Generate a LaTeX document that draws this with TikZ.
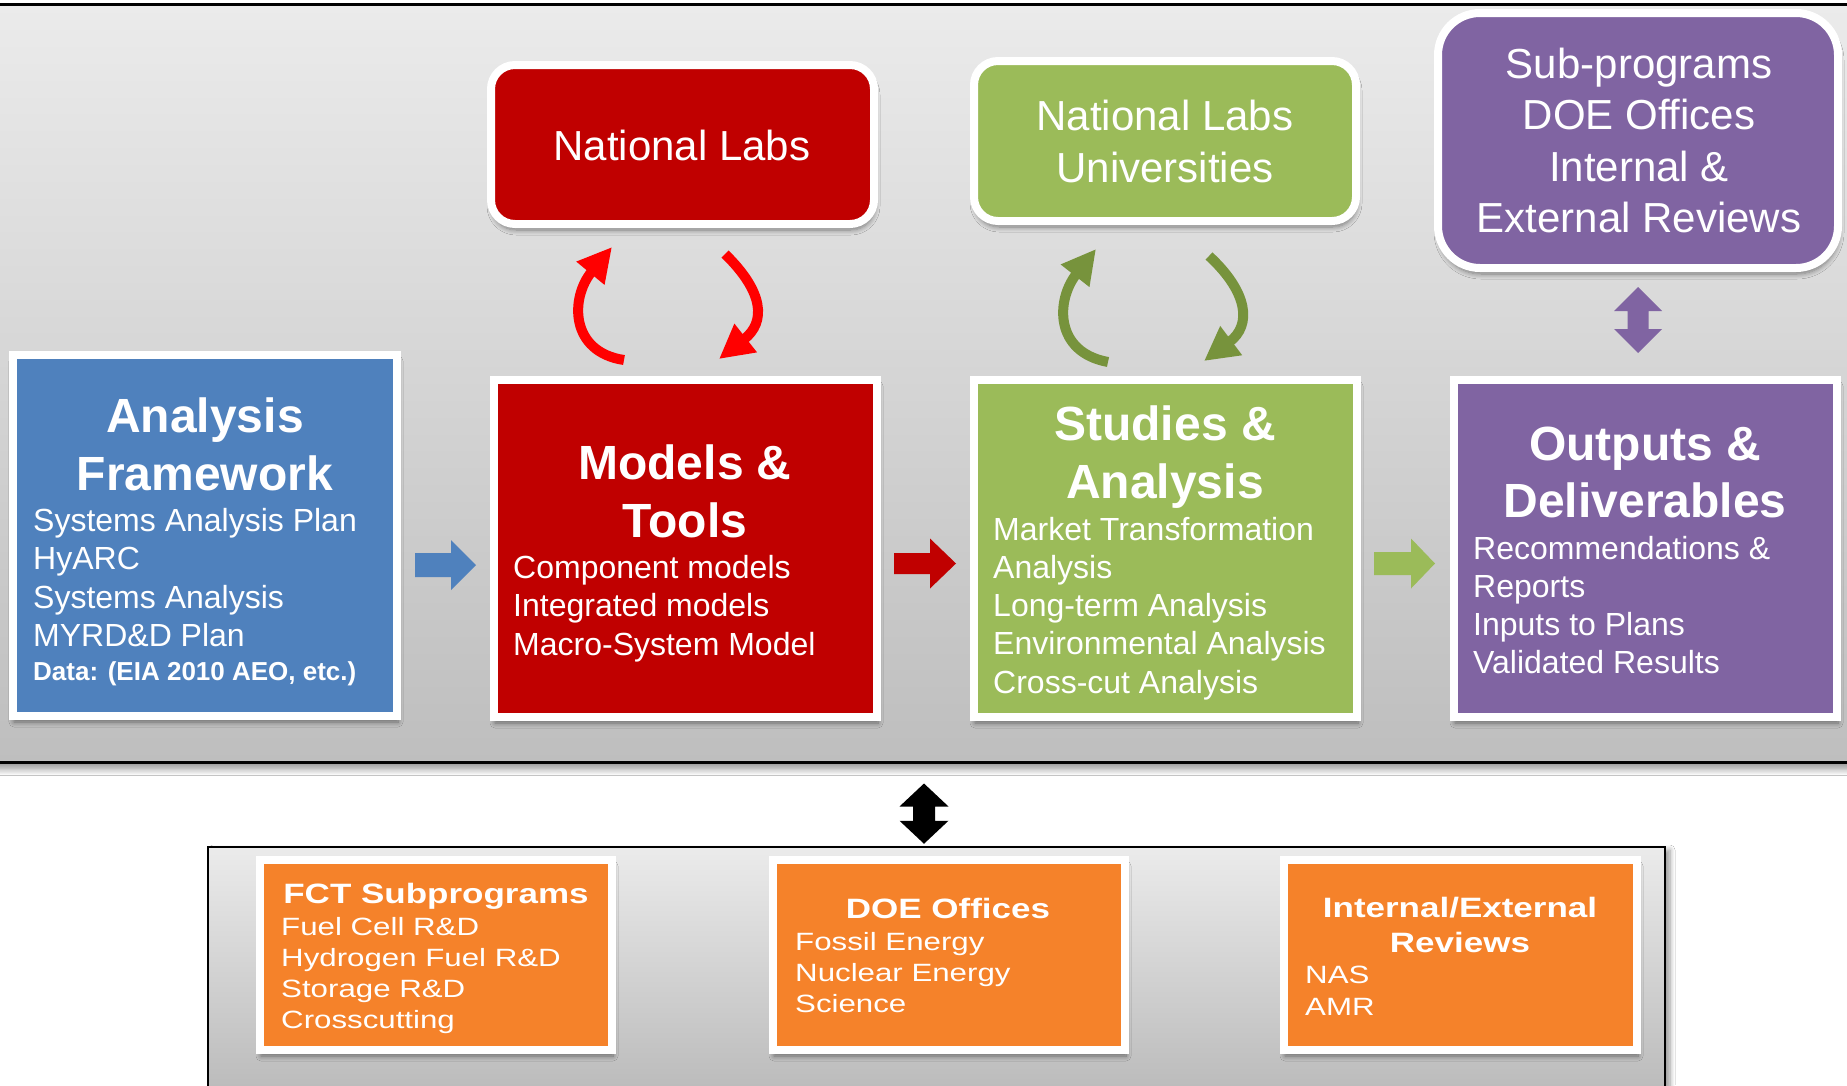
\documentclass[tikz,border=0pt]{standalone}
\usepackage{fontspec}
\setmainfont{Liberation Sans}
\newfontfamily\widefont[FakeStretch=1.25]{Liberation Sans}
\usetikzlibrary{arrows.meta,calc,shadows.blur}
\definecolor{cBlue}{HTML}{4F81BD}
\definecolor{cRed}{HTML}{C00000}
\definecolor{cGreen}{HTML}{9BBB59}
\definecolor{cPurple}{HTML}{8064A2}
\definecolor{cOrange}{HTML}{F5822A}
\definecolor{cArcRed}{HTML}{FF0000}
\definecolor{cArcGreen}{HTML}{77933C}
\definecolor{pTop}{HTML}{EBEBEB}
\definecolor{pBot}{HTML}{BEBEBE}
\newcommand\harrow[6]{% color, tail, tip, body half, head half, head length
  \fill[#1] let \p1=(#2), \p2=(#3) in
    (\x1,\y1+#4pt) -- (\x2-#6pt,\y1+#4pt) -- (\x2-#6pt,\y1+#5pt) -- (\x2,\y1)
    -- (\x2-#6pt,\y1-#5pt) -- (\x2-#6pt,\y1-#4pt) -- (\x1,\y1-#4pt) -- cycle;}
\newcommand\vdarrow[6]{% color, top tip, bottom tip, shaft half, head half, head length
  \fill[#1] let \p1=(#2), \p2=(#3) in
    (\x1,\y1) -- (\x1+#5pt,\y1-#6pt) -- (\x1+#4pt,\y1-#6pt) -- (\x1+#4pt,\y2+#6pt)
    -- (\x1+#5pt,\y2+#6pt) -- (\x1,\y2) -- (\x1-#5pt,\y2+#6pt) -- (\x1-#4pt,\y2+#6pt)
    -- (\x1-#4pt,\y1-#6pt) -- (\x1-#5pt,\y1-#6pt) -- cycle;}
\begin{document}
\begin{tikzpicture}[x=1pt,y=-1pt,
  box/.style={draw=white, line width=8pt, inner sep=0pt,
    blur shadow={shadow xshift=1pt, shadow yshift=-6pt, shadow blur steps=8, shadow opacity=45, shadow blur radius=5pt}},
  rbox/.style={box, rounded corners=24pt},
  ttl/.style={text=white, inner sep=0pt, anchor=base, font=\fontsize{48}{58}\selectfont\bfseries},
  bdy/.style={text=white, inner sep=0pt, anchor=base west, font=\fontsize{32}{39}\selectfont},
  toptxt/.style={text=white, inner sep=0pt, anchor=base, font=\fontsize{42}{51}\selectfont},
  bttl/.style={text=white, inner sep=0pt, anchor=base, font=\widefont\fontsize{28}{34}\selectfont\bfseries},
  bbdy/.style={text=white, inner sep=0pt, anchor=base west, font=\widefont\fontsize{25}{31}\selectfont},
  arcarrow/.style={line width=10pt, -{Triangle[length=34pt,width=34pt]}}]
\useasboundingbox (0,0) rectangle (1847,1085);
\fill[white] (0,0) rectangle (1847,1085);

% panels
\node[draw=black, line width=3pt, inner sep=0pt, minimum width=1880, minimum height=758,
  top color=pTop, bottom color=pBot,
  blur shadow={shadow xshift=0pt, shadow yshift=-7pt, shadow blur steps=8, shadow opacity=40, shadow blur radius=6pt}]
  (toppanel) at (924,383.5) {};
\node[draw=black, line width=2.5pt, inner sep=0pt, minimum width=1457, minimum height=248,
  top color=pTop, bottom color=pBot!98!black,
  blur shadow={shadow xshift=5pt, shadow yshift=-3pt, shadow blur steps=8, shadow opacity=40, shadow blur radius=5pt}]
  (botpanel) at (936.5,971) {};

% main boxes
\node[box, fill=cBlue,   minimum width=384, minimum height=361] (af) at (205,535.5) {};
\node[box, fill=cRed,    minimum width=383, minimum height=337] (mt) at (685.5,548.5) {};
\node[box, fill=cGreen,  minimum width=383, minimum height=337] (sa) at (1165.5,548.5) {};
\node[box, fill=cPurple, minimum width=383, minimum height=337] (od) at (1645.5,548.5) {};

% top boxes
\node[rbox, fill=cRed,   minimum width=383, minimum height=159] (nl) at (682.5,144.5) {};
\node[rbox, fill=cGreen, minimum width=382, minimum height=160] (nu) at (1165,141) {};
\node[box, rounded corners=42pt, fill=cPurple, minimum width=400, minimum height=255] (sp) at (1638,140.5) {};

% bottom boxes
\node[box, fill=cOrange, minimum width=352, minimum height=190] (fct) at (436,955) {};
\node[box, fill=cOrange, minimum width=352, minimum height=190] (doe) at (949,955) {};
\node[box, fill=cOrange, minimum width=353, minimum height=190] (ie)  at (1460.5,955) {};

% texts: Analysis Framework
\node[ttl] (af-t1) at (205,432) {Analysis};
\node[ttl] (af-t2) at (205,490) {Framework};
\foreach \t [count=\i] in {Systems Analysis Plan, HyARC, Systems Analysis, MYRD\&D Plan}
  \node[bdy] (af-b\i) at (33,{531+38.5*(\i-1)}) {\t};
\node[bdy, font=\fontsize{26}{31}\selectfont\bfseries] (af-data) at (33,680) {Data: (EIA 2010 AEO, etc.)};

% Models & Tools
\node[ttl] (mt-t1) at (685,479) {Models \&};
\node[ttl] (mt-t2) at (685,537) {Tools};
\foreach \t [count=\i] in {Component models, Integrated models, Macro-System Model}
  \node[bdy] (mt-b\i) at (513,{578+38.5*(\i-1)}) {\t};

% Studies & Analysis
\node[ttl] (sa-t1) at (1165,440) {Studies \&};
\node[ttl] (sa-t2) at (1165,498) {Analysis};
\foreach \t [count=\i] in {Market Transformation, Analysis, Long-term Analysis, Environmental Analysis, Cross-cut Analysis}
  \node[bdy] (sa-b\i) at (993,{540+38.3*(\i-1)}) {\t};

% Outputs & Deliverables
\node[ttl] (od-t1) at (1645,460) {Outputs \&};
\node[ttl] (od-t2) at (1645,517) {Deliverables};
\foreach \t [count=\i] in {Recommendations \&, Reports, Inputs to Plans, Validated Results}
  \node[bdy] (od-b\i) at (1473,{559+38.3*(\i-1)}) {\t};

% top box texts
\node[toptxt] (nl-t) at (682,160) {National Labs};
\node[toptxt] (nu-t1) at (1165,130) {National Labs};
\node[toptxt] (nu-t2) at (1165,182) {Universities};
\foreach \t [count=\i] in {Sub-programs, DOE Offices, Internal \&, External Reviews}
  \node[toptxt] (sp-t\i) at (1639,{78+51.5*(\i-1)}) {\t};

% bottom texts
\node[bttl] (fct-t) at (436,903) {FCT Subprograms};
\foreach \t [count=\i] in {Fuel Cell R\&D, Hydrogen Fuel R\&D, Storage R\&D, Crosscutting}
  \node[bbdy] (fct-b\i) at (281,{935+31*(\i-1)}) {\t};
\node[bttl] (doe-t) at (948,918) {DOE Offices};
\foreach \t [count=\i] in {Fossil Energy, Nuclear Energy, Science}
  \node[bbdy] (doe-b\i) at (795,{950+31*(\i-1)}) {\t};
\node[bttl] (ie-t1) at (1460,917) {Internal/External};
\node[bttl] (ie-t2) at (1460,952) {Reviews};
\foreach \t [count=\i] in {NAS, AMR}
  \node[bbdy] (ie-b\i) at (1305,{983+32*(\i-1)}) {\t};

% block arrows between main boxes
\path (af.east) ++(14,29.5) coordinate (b1s);
\path (mt.west) ++(-14,16.5) coordinate (b1e);
\harrow{cBlue}{b1s}{b1e}{12}{25}{25}
\path (mt.east) ++(13,15) coordinate (b2s);
\path (sa.west) ++(-14,15) coordinate (b2e);
\harrow{cRed}{b2s}{b2e}{10.5}{25}{26}
\path (sa.east) ++(13,15) coordinate (b3s);
\path (od.west) ++(-15,15) coordinate (b3e);
\harrow{cGreen}{b3s}{b3e}{11.5}{25}{24}

% vertical double arrows
\path (sp.south) ++(0,15) coordinate (p1);
\path (sp.south |- od.north) ++(0,-23) coordinate (p2);
\vdarrow{cPurple}{p1}{p2}{10.5}{24}{24}
\path (toppanel.south) ++(0,19.5) coordinate (k1);
\path (toppanel.south |- botpanel.north) ++(0,-2) coordinate (k2);
\vdarrow{black}{k1}{k2}{11}{24.5}{23}

% curved arrows (red)
\draw[arcarrow, cArcRed] ($(mt.north)+(-61.5,-16)$) .. controls (570,352) and (570,298) .. ($(nl.south)+(-70.5,19)$);
\draw[arcarrow, cArcRed] ($(nl.south)+(42.5,26)$) .. controls (764,292) and (766,322) .. ($(mt.north)+(33.5,-17)$);
% curved arrows (green)
\draw[arcarrow, cArcGreen] ($(sa.north)+(-57.5,-14)$) .. controls (1054,352) and (1056,300) .. ($(nu.south)+(-69,24)$);
\draw[arcarrow, cArcGreen] ($(nu.south)+(44,31)$) .. controls (1248,292) and (1252,325) .. ($(sa.north)+(38.5,-15)$);
\end{tikzpicture}
\end{document}
